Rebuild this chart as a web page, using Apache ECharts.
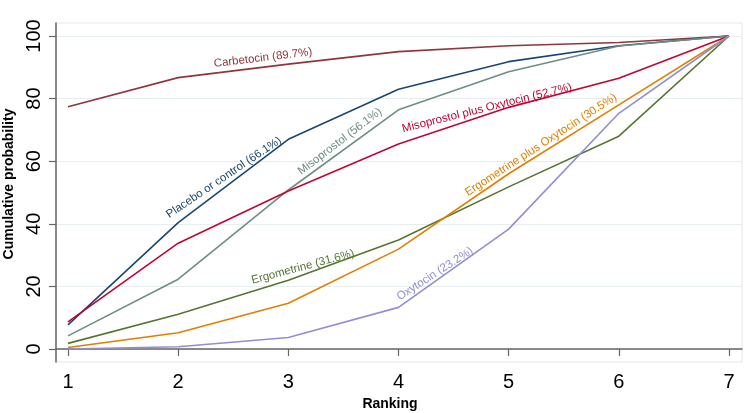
<!DOCTYPE html>
<html>
<head>
<meta charset="utf-8">
<script src="https://cdn.jsdelivr.net/npm/echarts@6/dist/echarts.min.js"></script>
<style>html,body{margin:0;padding:0;background:#fff;}#c{width:753px;height:413px;}</style>
</head>
<body>
<div id="c"></div>
<script>
var ranks = [1, 2, 3, 4, 5, 6, 7];
var yTicks = [0, 20, 40, 60, 80, 100];
var carbetocin = [77.4, 86.7, 91.0, 95.0, 96.9, 97.9, 100];
var placebo = [7.7, 40.4, 67.0, 83.0, 91.8, 96.9, 100];
var misoprostol = [4.2, 22.3, 50.8, 76.4, 88.6, 96.8, 100];
var misoOxy = [8.7, 33.8, 50.5, 65.5, 77.2, 86.5, 100];
var ergometrine = [1.8, 11.1, 22.0, 34.8, 51.8, 68.0, 100];
var ergoOxy = [0.5, 5.2, 14.6, 31.9, 56.0, 78.0, 100];
var oxytocin = [0, 0.7, 3.7, 13.3, 38.3, 75.3, 100];

var seriesNames = ['Carbetocin (89.7%)', 'Placebo or control (66.1%)', 'Misoprostol (56.1%)',
  'Misoprostol plus Oxytocin (52.7%)', 'Ergometrine (31.6%)', 'Ergometrine plus Oxytocin (30.5%)', 'Oxytocin (23.2%)'];
var seriesData = [carbetocin, placebo, misoprostol, misoOxy, ergometrine, ergoOxy, oxytocin];
var colors = ['#90353b', '#1a476f', '#6e8e84', '#c10534', '#55752f', '#e37e00', '#938dd2'];
// label anchor (text centre) in data coords and rotation in degrees
var labelPos = [[2.77, 93.0], [2.416, 54.8], [3.469, 66.3], [4.803, 77.0], [3.133, 26.2], [5.293, 65.2], [4.331, 24.0]];
var labelRot = [7, 34, 37.5, 14, 15, 33, 33];

var FONT = '"Liberation Sans", Arial, sans-serif';

var series = seriesData.map(function (vals, i) {
  return {
    type: 'line',
    name: seriesNames[i],
    data: vals.map(function (v, j) { return [ranks[j], v]; }),
    showSymbol: false,
    symbol: 'none',
    lineStyle: { color: colors[i], width: 1.6 },
    itemStyle: { color: colors[i] },
    silent: true,
    animation: false,
    markPoint: {
      symbol: 'circle',
      symbolSize: 0,
      animation: false,
      data: [{
        coord: labelPos[i],
        label: {
          show: true,
          position: 'inside',
          align: 'center',
          verticalAlign: 'middle',
          formatter: seriesNames[i],
          rotate: labelRot[i],
          color: colors[i],
          fontSize: 11.5,
          fontFamily: FONT
        }
      }]
    }
  };
});

var chart = echarts.init(document.getElementById('c'), null, { renderer: 'canvas' });
chart.setOption({
  backgroundColor: '#ffffff',
  animation: false,
  grid: { left: 56, right: 11, top: 23, bottom: 51, show: true, borderColor: '#e3e9eb', borderWidth: 1, containLabel: false, outerBoundsMode: 'none' },
  xAxis: {
    type: 'value',
    min: 0.891,
    max: 7.118,
    name: 'Ranking',
    nameLocation: 'middle',
    nameGap: 30,
    nameTextStyle: { fontSize: 14, fontWeight: 'bold', color: '#000', fontFamily: FONT, padding: [0, 18, 0, 0] },
    axisLine: { show: true, lineStyle: { color: '#666', width: 1.5 } },
    axisTick: { show: true, customValues: ranks, length: 7, lineStyle: { color: '#666', width: 1.2 } },
    axisLabel: { customValues: ranks, fontSize: 20, color: '#000', fontFamily: FONT, margin: 10 },
    splitLine: { show: false }
  },
  yAxis: {
    type: 'value',
    min: -4.15,
    max: 104.15,
    name: 'Cumulative probability',
    nameLocation: 'middle',
    nameRotate: 90,
    nameGap: 36,
    nameTextStyle: { fontSize: 14, fontWeight: 'bold', color: '#000', fontFamily: FONT, padding: [0, 0, 0, 17] },
    axisLine: { show: true, lineStyle: { color: '#666', width: 1.5 } },
    axisTick: { show: true, customValues: yTicks, length: 7, lineStyle: { color: '#666', width: 1.2 } },
    axisLabel: { customValues: yTicks, rotate: 90, fontSize: 20, color: '#000', fontFamily: FONT, margin: 12 },
    splitLine: { show: true, lineStyle: { color: '#e6eef0', width: 1.2 } }
  },
  series: series
});
</script>
</body>
</html>
